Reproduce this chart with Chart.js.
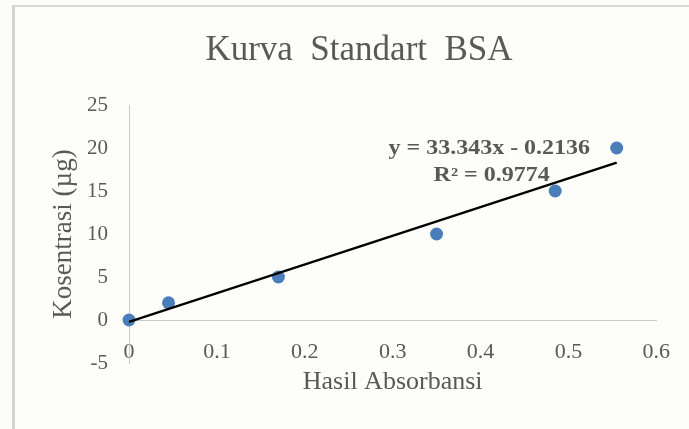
<!DOCTYPE html>
<html>
<head>
<meta charset="utf-8">
<title>Kurva Standart BSA</title>
<script src="https://cdn.jsdelivr.net/npm/chart.js@4/dist/chart.umd.min.js"></script>
<style>
    html, body { margin: 0; padding: 0; background: #fcfcf8; }
    #frame {
        position: absolute; left: 12px; top: 5px; width: 720px; height: 460px;
        border-top: 2px solid #d9d9d5; border-left: 3px solid #d4d4d0;
        background: #fdfdfa;
    }
    #chart { position: absolute; left: 0; top: 0; }
</style>
</head>
<body>
<div id="frame"></div>
<canvas id="chart" width="689" height="429"></canvas>
<script>
const absorbansi = [0, 0.045, 0.17, 0.35, 0.485, 0.555];
const konsentrasi = [0, 2, 5, 10, 15, 20];
const slope = 33.343;
const intercept = -0.2136;
const rSquared = 0.9774;
const xTicks = [0, 0.1, 0.2, 0.3, 0.4, 0.5, 0.6];
const yTicks = [-5, 0, 5, 10, 15, 20, 25];

const FONT = "'Liberation Serif', 'Times New Roman', serif";
const TEXT_COLOR = '#595959';
const AXIS_COLOR = '#c9c9c9';

const trendX = [absorbansi[0], absorbansi[absorbansi.length - 1]];
const trendPoints = trendX.map(x => ({x: x, y: slope * x + intercept}));

// equation + R² label, placed in data units near the end of the trendline
const trendLabel = {
    id: 'trendLabel',
    afterDatasetsDraw(chart) {
        const {ctx, scales} = chart;
        const cx = scales.x.getPixelForValue(0.41);
        const cy = scales.y.getPixelForValue(19.9);
        const lines = [
            `y = ${slope}x - ${Math.abs(intercept)}`,
            `R² = ${rSquared}`
        ];
        ctx.save();
        ctx.font = `bold 20px ${FONT}`;
        ctx.fillStyle = TEXT_COLOR;
        ctx.textAlign = 'center';
        ctx.textBaseline = 'middle';
        ctx.translate(cx, cy);
        ctx.scale(1.2, 1);
        ctx.fillText(lines[0], 0, 0);
        ctx.fillText(lines[1], 2, 27);
        ctx.restore();
    }
};

new Chart(document.getElementById('chart'), {
    type: 'scatter',
    data: {
        datasets: [{
            label: 'Linear',
            data: trendPoints,
            showLine: true,
            borderColor: '#000000',
            borderWidth: 2.25,
            pointRadius: 0,
            clip: false,
            order: 0
        }, {
            label: 'Kosentrasi',
            data: absorbansi.map((x, i) => ({x: x, y: konsentrasi[i]})),
            backgroundColor: '#4a7ebb',
            borderWidth: 0,
            pointRadius: 6.5,
            pointHoverRadius: 6.5,
            clip: false,
            order: 1
        }]
    },
    options: {
        responsive: false,
        animation: false,
        events: [],
        layout: {
            padding: {left: 57, right: 28, top: 0, bottom: 66}
        },
        plugins: {
            legend: {display: false},
            tooltip: {enabled: false},
            title: {
                display: true,
                text: 'Kurva  Standart  BSA',
                color: TEXT_COLOR,
                font: {family: FONT, size: 35, weight: 'normal'},
                padding: {top: 30, bottom: 33}
            }
        },
        scales: {
            x: {
                type: 'linear',
                position: {y: 0},
                min: xTicks[0],
                max: xTicks[xTicks.length - 1],
                afterBuildTicks: s => { s.ticks = xTicks.map(v => ({value: v})); },
                afterFit: s => { s.height = 77.6; },
                grid: {display: false, drawTicks: false},
                border: {display: true, color: AXIS_COLOR, width: 1},
                ticks: {
                    color: TEXT_COLOR,
                    padding: 19,
                    maxRotation: 0,
                    font: {family: FONT, size: 22},
                    callback: v => String(v)
                },
                title: {
                    display: true,
                    text: 'Hasil Absorbansi',
                    color: TEXT_COLOR,
                    font: {family: FONT, size: 26},
                    padding: 0
                }
            },
            y: {
                type: 'linear',
                position: 'left',
                min: yTicks[0],
                max: yTicks[yTicks.length - 1],
                afterBuildTicks: s => { s.ticks = yTicks.map(v => ({value: v})); },
                afterFit: s => { s.width = 72; },
                grid: {display: false, drawTicks: false},
                border: {display: true, color: AXIS_COLOR, width: 1},
                ticks: {
                    color: TEXT_COLOR,
                    padding: 21,
                    font: {family: FONT, size: 21},
                    callback: v => String(v)
                },
                title: {
                    display: true,
                    text: 'Kosentrasi (µg)',
                    color: TEXT_COLOR,
                    font: {family: FONT, size: 27},
                    padding: {top: -9, bottom: 0}
                }
            }
        }
    },
    plugins: [trendLabel]
});
</script>
</body>
</html>
